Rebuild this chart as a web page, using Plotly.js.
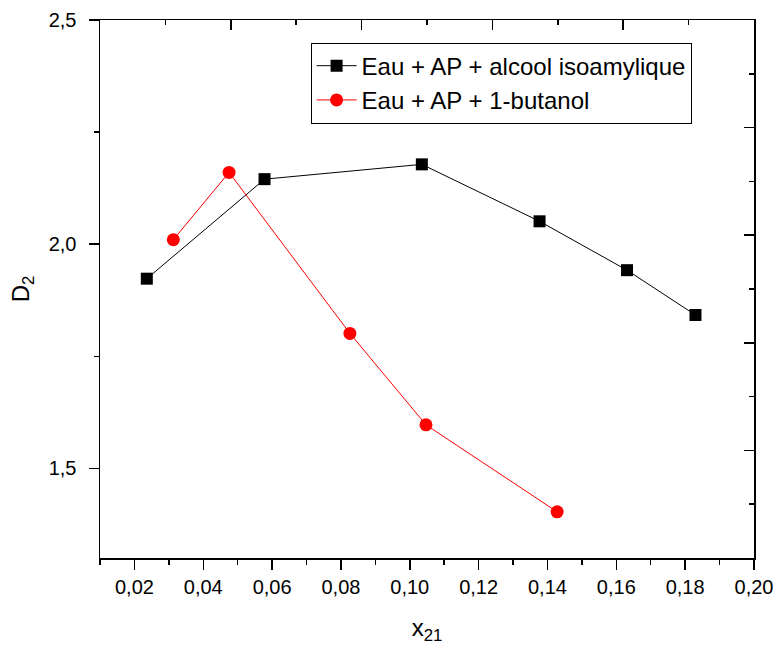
<!DOCTYPE html>
<html>
<head>
<meta charset="utf-8">
<script src="https://cdn.plot.ly/plotly-3.0.1.min.js"></script>
<style>html,body{margin:0;padding:0;background:#fff;} #chart{width:777px;height:651px;}</style>
</head>
<body>
<div id="chart"></div>
<script>
const seriesNames = ["Eau + AP + alcool isoamylique", "Eau + AP + 1-butanol"];
const xIsoamyl = [0.0236, 0.0578, 0.1035, 0.1377, 0.1631, 0.1830];
const yIsoamyl = [1.923, 2.145, 2.178, 2.051, 1.942, 1.842];
const xButanol = [0.0313, 0.0475, 0.0826, 0.1047, 0.1428];
const yButanol = [2.010, 2.160, 1.801, 1.597, 1.403];

const FONT = "Arial, 'Liberation Sans', sans-serif";

const traces = [
  {
    x: xIsoamyl, y: yIsoamyl, name: seriesNames[0],
    type: "scatter", mode: "lines+markers",
    line: {color: "#000000", width: 1},
    marker: {symbol: "square", size: 12, color: "#000000"}
  },
  {
    x: xButanol, y: yButanol, name: seriesNames[1],
    type: "scatter", mode: "lines+markers",
    line: {color: "#ff0000", width: 1},
    marker: {symbol: "circle", size: 13, color: "#ff0000"}
  },
  {
    x: [], y: [], xaxis: "x2", yaxis: "y2", showlegend: false,
    type: "scatter", mode: "markers", hoverinfo: "skip"
  }
];

const layout = {
  width: 777, height: 651,
  margin: {l: 100, r: 23, t: 20, b: 93},
  paper_bgcolor: "#ffffff", plot_bgcolor: "#ffffff",
  separators: ",.",
  font: {family: FONT, color: "#000000", size: 20},
  showlegend: true,
  legend: {
    x: 0.322, y: 0.958, xanchor: "left", yanchor: "top",
    bgcolor: "#ffffff", bordercolor: "#000000", borderwidth: 1,
    font: {family: FONT, size: 24, color: "#000000"},
    tracegroupgap: 0, itemwidth: 40
  },
  xaxis: {
    range: [0.01, 0.20], dtick: 0.02, tick0: 0, tickformat: ".2f",
    showgrid: false, zeroline: false,
    showline: true, linecolor: "#000000", linewidth: 1.5,
    ticks: "outside", ticklen: 10, tickwidth: 1.5, tickcolor: "#000000",
    minor: {dtick: 0.01, tick0: 0, ticks: "outside", ticklen: 5, tickwidth: 1.5, tickcolor: "#000000", showgrid: false},
    tickfont: {family: FONT, size: 20},
    title: {text: "x<sub>21</sub>", font: {family: FONT, size: 24}, standoff: 22}
  },
  yaxis: {
    range: [1.3, 2.5], dtick: 0.5, tick0: 0, tickformat: ".1f",
    showgrid: false, zeroline: false,
    showline: true, linecolor: "#000000", linewidth: 1.5,
    ticks: "outside", ticklen: 10, tickwidth: 1.5, tickcolor: "#000000",
    minor: {dtick: 0.25, tick0: 0, ticks: "outside", ticklen: 5, tickwidth: 1.5, tickcolor: "#000000", showgrid: false},
    tickfont: {family: FONT, size: 20},
    ticklabelstandoff: 8,
    title: {text: "D<sub>2</sub>", font: {family: FONT, size: 24}, standoff: 12}
  },
  xaxis2: {
    overlaying: "x", side: "top", anchor: "y2", range: [0, 5], dtick: 1, tick0: 0,
    showgrid: false, zeroline: false, showticklabels: false,
    showline: true, linecolor: "#000000", linewidth: 1.5,
    ticks: "inside", ticklen: 10, tickwidth: 1.5, tickcolor: "#000000",
    minor: {dtick: 0.5, tick0: 0, ticks: "inside", ticklen: 5, tickwidth: 1.5, tickcolor: "#000000", showgrid: false}
  },
  yaxis2: {
    overlaying: "y", side: "right", anchor: "x2", range: [0, 5], dtick: 1, tick0: 0,
    showgrid: false, zeroline: false, showticklabels: false,
    showline: true, linecolor: "#000000", linewidth: 1.5,
    ticks: "inside", ticklen: 10, tickwidth: 1.5, tickcolor: "#000000",
    minor: {dtick: 0.5, tick0: 0, ticks: "inside", ticklen: 5, tickwidth: 1.5, tickcolor: "#000000", showgrid: false}
  }
};

Plotly.newPlot("chart", traces, layout, {displayModeBar: false, staticPlot: true});
</script>
</body>
</html>
